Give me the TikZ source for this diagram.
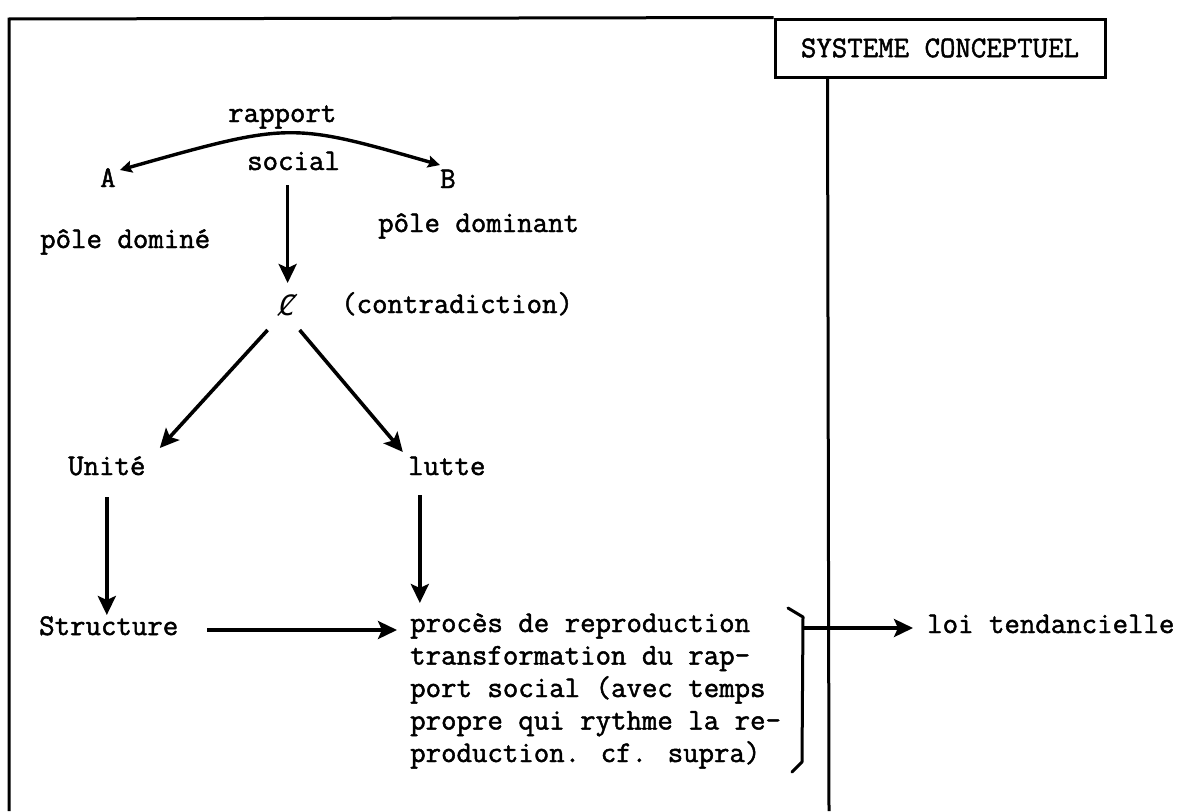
\documentclass[tikz,border=0pt]{standalone}
\usepackage{fontspec}
\newfontfamily\tw{Latin Modern Mono}[FakeBold=1.6]
\newfontfamily\twsym{DejaVu Sans Mono}
\usetikzlibrary{arrows.meta,calc}
\begin{document}
\begin{tikzpicture}[x=1pt,y=-1pt,
  lbl/.style={inner sep=0pt, anchor=base west, font=\tw\fontsize{30}{32.5}\selectfont},
  arr/.style={line width=3.6pt, -{Stealth[length=19pt,width=18pt,inset=4pt]}},
  arcarr/.style={line width=3.4pt, {Stealth[length=12pt,width=12pt,inset=2pt]}-{Stealth[length=12pt,width=12pt,inset=2pt]}},
  frame/.style={line width=3pt}]
\useasboundingbox[fill=white] (0,0) rectangle (1188,811);
% labels
\node[lbl] (rapport) at (228,122) {rapport};
\node[lbl] (social) at (247,170) {social};
\node[lbl] (A) at (100,187) {A};
\node[lbl] (B) at (440,188) {B};
\node[lbl] (domine) at (40,248) {pôle dominé};
\node[lbl] (dominant) at (378,232) {pôle dominant};
\node[lbl] (cent) at (279,315) {\twsym\fontsize{28}{30}\selectfont\itshape Ȼ};
\node[lbl] (contra) at (341,313) {(contradiction)};
\node[lbl] (unite) at (68,475) {Unité};
\node[lbl] (lutte) at (408,475) {lutte};
\node[lbl] (structure) at (39,635) {Structure};
\node[lbl] (proc) at (410,632) {\begin{tabular}[t]{@{}l@{}}procès de reproduction\\transformation du rap-\\port social (avec temps\\propre qui rythme la re-\\production. cf. supra)\end{tabular}};
\node[lbl] (loi) at (927,633) {loi tendancielle};
\node[draw, line width=3pt, minimum width=330pt, minimum height=58pt, inner sep=0pt,
  font=\tw\fontsize{30}{32.5}\selectfont] (sys) at (940,48) {SYSTEME CONCEPTUEL};
% frame
\draw[frame] (9,811) -- (9,19) -- (sys.north west);
\draw[frame] ($(sys.south west)+(54,0)$) -- (829,811);
% connectors
\draw[arcarr] ($(A.base)+(12,-17)$) .. controls (290,122) .. ($(B.base)+(-8,-23)$);
\draw[arr] ($(cent.base |- social.base)+(0,15)$) -- ($(cent.base)+(0,-32)$);
\draw[arr] ($(cent.base)+(-20,15)$) -- ($(unite.base)+(53,-27)$);
\draw[arr] ($(cent.base)+(12,15)$) -- ($(lutte.base)+(-44,-23)$);
\draw[arr] ($(unite.base)+(0,22)$) -- ($(unite.base |- structure.base)+(0,-20)$);
\draw[arr] ($(lutte.base)+(-27,20)$) -- ($(lutte.base)+(-27,128)$);
\draw[arr] ($(structure.base east)+(29,-5)$) -- ($(proc.base west)+(-13,-2)$);
% brace
\draw[line width=3pt, line join=round, line cap=round] (788,608) -- (803,617) -- (802,762) -- (792,772);
\coordinate (bt) at (803,628);
\draw[arr] (bt) -- ($(loi.base west)+(-14,-5)$);
\end{tikzpicture}
\end{document}
